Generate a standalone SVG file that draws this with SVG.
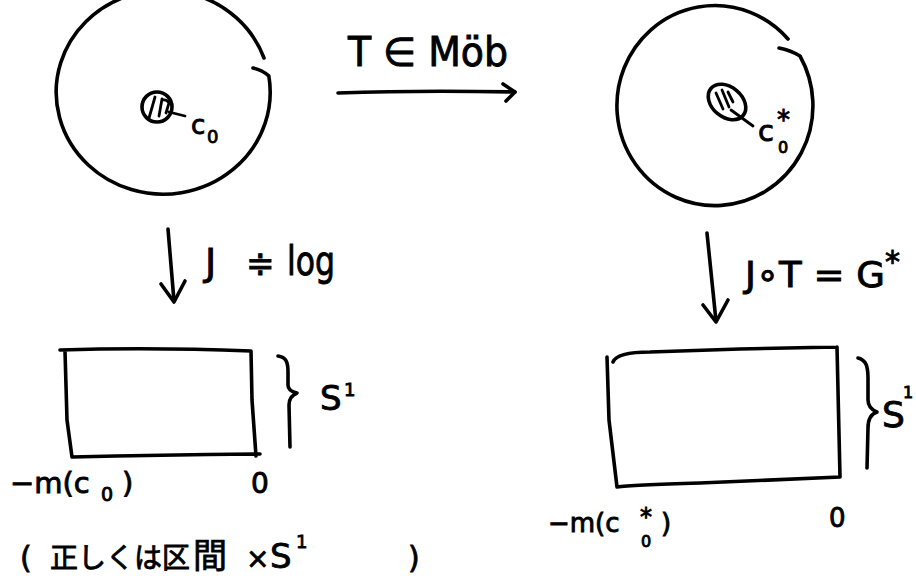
<svg xmlns="http://www.w3.org/2000/svg" width="916" height="580" viewBox="0 0 916 580">
<style>
.ln{fill:none;stroke:#000;stroke-width:3.6;stroke-linecap:round;stroke-linejoin:round}
.th{fill:none;stroke:#000;stroke-width:2.8;stroke-linecap:round}
.t{font-family:"DejaVu Sans","Liberation Sans","Noto Sans CJK JP",sans-serif;fill:#000;stroke:#000;stroke-width:0.9}
.jp{font-family:"DejaVu Sans","Noto Sans CJK JP",sans-serif;fill:#000;stroke:#000;stroke-width:0.8}
</style>
<rect width="916" height="580" fill="#fff"/>

<g id="disk-left">
<path class="ln" d="M253,68 Q262,70 268.8,75.8 A107,102 0 1 1 264,58"/>
<circle class="ln" cx="157" cy="107" r="15"/>
<path class="th" d="M149,118 L155,97 M159,116 L162,99 M162,100 Q167,99 169,103 L166,113"/>
<path class="th" d="M169,112 L185,116"/>
<text class="t" x="191" y="134" font-size="26">c</text>
<text class="t" x="207" y="143" font-size="18">0</text>
</g>

<g id="disk-right">
<path class="ln" d="M779,48 Q790,50 800,56 A98,100 0 1 1 788,39"/>
<ellipse class="ln" cx="727" cy="102" rx="21" ry="15" transform="rotate(40 727 102)"/>
<path class="th" d="M716,93 L723,109 M722,90 L729,107 M728,92 L733,102"/>
<path class="th" d="M731,110 L753,126"/>
<text class="t" x="758" y="141" font-size="29">c</text>
<text class="t" x="778" y="153" font-size="16">0</text>
<text class="t" x="777" y="129" font-size="26">*</text>
</g>

<g id="strip-left">
<path class="ln" d="M60,350 Q150,347 251,351 M251,351 L252,400 L256,456 M72,457 Q160,455 260,454 M65,351 L67,420 L72,457"/>
<path class="ln" d="M278,356 C286,357 288,362 288,372 L288,385 C288,390 292,392 297,393 C292,395 289,398 289,405 L290,447"/>
<text class="t" x="320" y="410" font-size="34">S</text>
<text class="t" x="344" y="396" font-size="18">1</text>
<text class="t" x="10" y="493" font-size="29">−m(c</text>
<text class="t" x="101" y="501" font-size="19">0</text>
<text class="t" x="122" y="493" font-size="29">)</text>
<text class="t" x="251" y="493" font-size="28">0</text>
</g>

<g id="strip-right">
<path class="ln" d="M607,357 L609,420 L617,487 M613,362 Q617,352 650,352 L740,349 L837,347 M837,347 L840,477 M617,487 Q630,485 700,483 L840,477"/>
<path class="ln" d="M858,358 C866,360 868,366 868,378 L868,400 C868,406 872,410 877,412 C871,414 868,420 868,428 L867,468"/>
<text class="t" x="882" y="427" font-size="36">S</text>
<text class="t" x="903" y="398" font-size="16">1</text>
<text class="t" x="548" y="532" font-size="26">−m(c</text>
<text class="t" x="641" y="547" font-size="16">0</text>
<text class="t" x="640" y="525" font-size="24">*</text>
<text class="t" x="661" y="532" font-size="26">)</text>
<text class="t" x="829" y="527" font-size="26">0</text>
</g>

<g id="connectors">
<path class="ln" d="M338,93 Q420,90 515,92"/>
<polyline class="ln" points="503,84 515,92 506,101"/>
<path class="ln" d="M168,229 L174,301"/>
<polyline class="ln" points="161,284 174,302 185,281"/>
<path class="ln" d="M707,233 Q712,280 716,321"/>
<polyline class="ln" points="703,305 716,322 728,300"/>
</g>

<g id="labels">
<text class="t" x="348" y="66" font-size="40" textLength="160" lengthAdjust="spacingAndGlyphs">T ∈ Möb</text>
<text class="t" x="205" y="275" font-size="38">J</text>
<text class="t" x="246" y="275" font-size="34">≑</text>
<text class="t" x="287" y="275" font-size="40" textLength="48" lengthAdjust="spacingAndGlyphs">log</text>
<text class="t" x="745" y="287" font-size="36" textLength="140" lengthAdjust="spacingAndGlyphs">J∘T = G</text>
<text class="t" x="885" y="272" font-size="30">*</text>
<text class="jp" y="568" font-size="28"><tspan x="20" font-size="30">(</tspan><tspan x="50">正しくは</tspan><tspan x="162">区</tspan><tspan x="193" font-size="34">間</tspan><tspan x="246">×</tspan><tspan x="270" font-size="34">S</tspan></text>
<text class="jp" x="296" y="548" font-size="18">1</text>
<text class="jp" x="408" y="568" font-size="30">)</text>
</g>
</svg>
